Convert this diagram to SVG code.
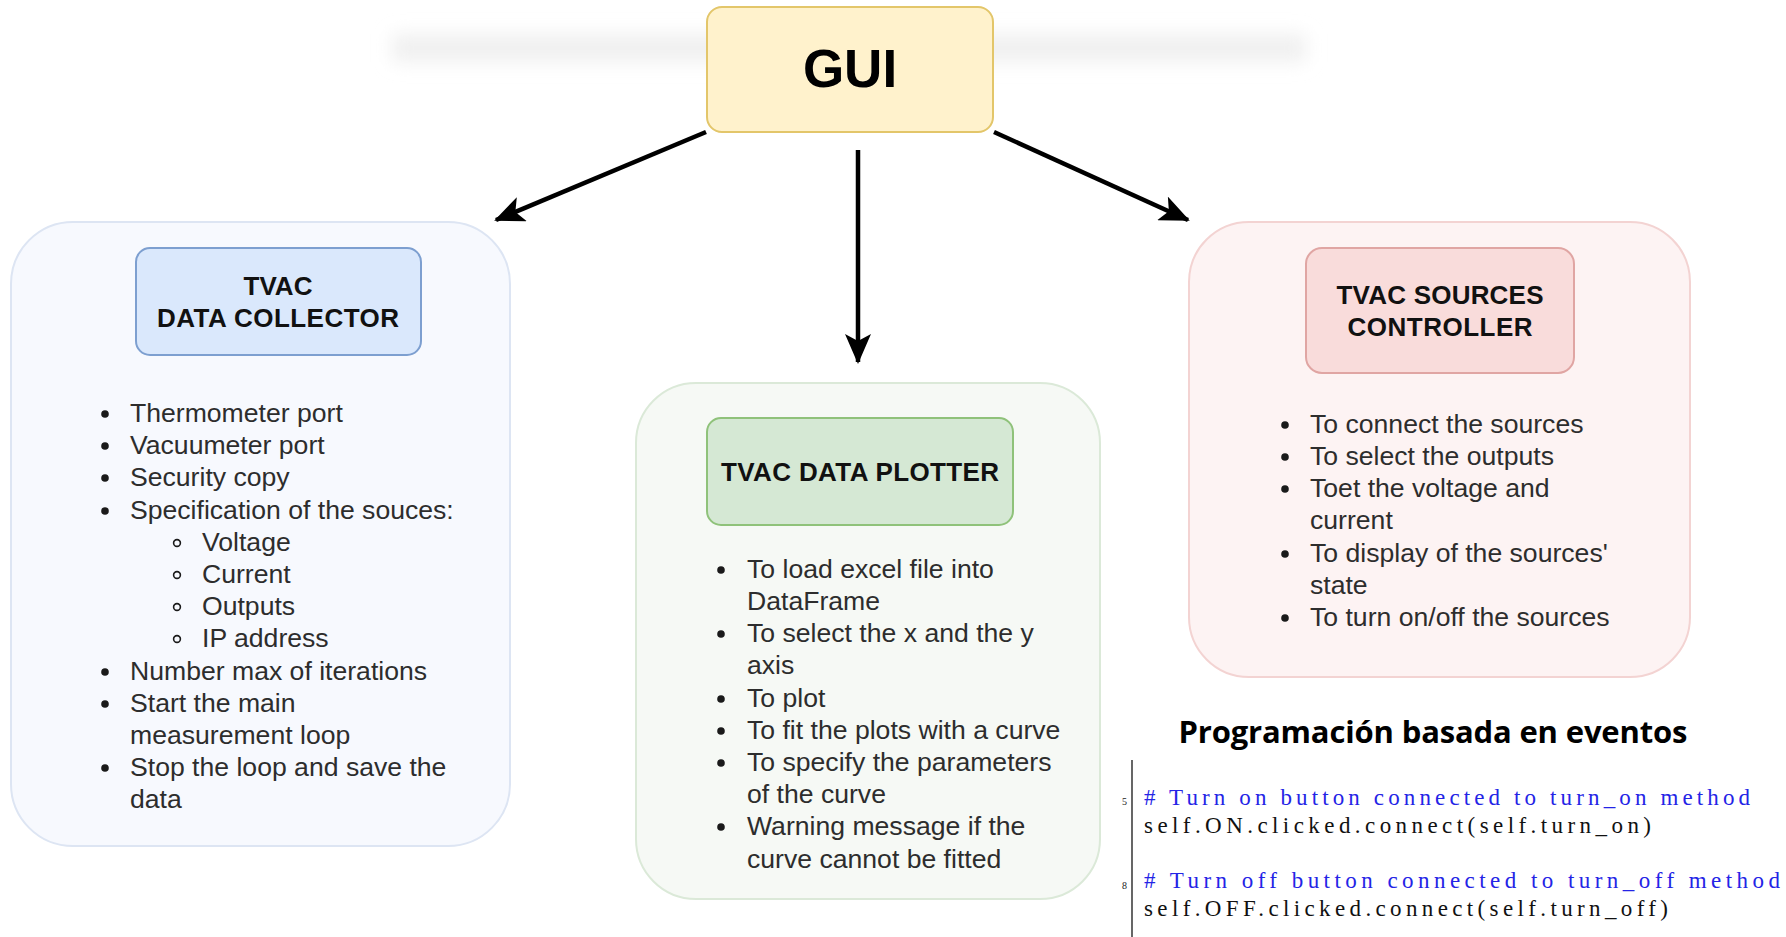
<svg xmlns="http://www.w3.org/2000/svg" width="1786" height="937" viewBox="0 0 1786 937">
<style>
.t{font-family:"Liberation Sans",Arial,sans-serif;font-size:26.6px;fill:#2d2d2d}
.h{font-family:"Liberation Sans",Arial,sans-serif;font-weight:bold;font-size:26px;fill:#111;text-anchor:middle}
.dot{fill:#1a1a1a}
.sub{fill:none;stroke:#1a1a1a;stroke-width:1.6}
.conn{stroke:#000;stroke-width:4.5;fill:none}
.code{font-family:"Liberation Serif","Times New Roman",serif;font-size:23px}
.ln{font-family:"Liberation Serif",serif;font-size:10px;fill:#222}
</style>
<defs>
<filter id="blur" x="-20%" y="-150%" width="140%" height="400%"><feGaussianBlur stdDeviation="9"/></filter>
<marker id="arr" markerUnits="userSpaceOnUse" markerWidth="30" markerHeight="26" viewBox="0 0 30 26" refX="28" refY="13" orient="auto">
<path d="M0,0 L30,13 L0,26 L7,13 Z" fill="#000"/>
</marker>
</defs>
<rect width="1786" height="937" fill="#fff"/>
<rect x="392" y="34" width="914" height="28" fill="#f0f0f0" filter="url(#blur)"/>

<g id="connectors">
<line class="conn" x1="706" y1="132" x2="496" y2="220" marker-end="url(#arr)"/>
<line class="conn" x1="858" y1="150" x2="858" y2="362" marker-end="url(#arr)"/>
<line class="conn" x1="994" y1="132" x2="1188" y2="220" marker-end="url(#arr)"/>
</g>

<g id="gui">
<rect x="707" y="7" width="286" height="125" rx="15" fill="#fff2cc" stroke="#e3c66a" stroke-width="2"/>
<text x="850" y="87" font-family="Liberation Sans,Arial,sans-serif" font-weight="bold" font-size="53" text-anchor="middle" fill="#000">GUI</text>
</g>

<g id="collector">
<rect x="11" y="222" width="499" height="624" rx="62" fill="#f7f9fe" stroke="#dde5f3" stroke-width="2"/>
<rect x="136" y="248" width="285" height="107" rx="14" fill="#dae8fc" stroke="#7d9fd0" stroke-width="2"/>
<text class="h" x="278" y="295">TVAC</text>
<text class="h" x="278" y="327" textLength="242">DATA COLLECTOR</text>
<circle class="dot" cx="105" cy="414" r="3.8"/>
<circle class="dot" cx="105" cy="446" r="3.8"/>
<circle class="dot" cx="105" cy="478" r="3.8"/>
<circle class="dot" cx="105" cy="511" r="3.8"/>
<circle class="sub" cx="177" cy="543" r="3.4"/>
<circle class="sub" cx="177" cy="575" r="3.4"/>
<circle class="sub" cx="177" cy="607" r="3.4"/>
<circle class="sub" cx="177" cy="639" r="3.4"/>
<circle class="dot" cx="105" cy="672" r="3.8"/>
<circle class="dot" cx="105" cy="704" r="3.8"/>
<circle class="dot" cx="105" cy="768" r="3.8"/>
<text class="t" x="130" y="422">Thermometer port</text>
<text class="t" x="130" y="454">Vacuumeter port</text>
<text class="t" x="130" y="486">Security copy</text>
<text class="t" x="130" y="519">Specification of the souces:</text>
<text class="t" x="202" y="551">Voltage</text>
<text class="t" x="202" y="583">Current</text>
<text class="t" x="202" y="615">Outputs</text>
<text class="t" x="202" y="647">IP address</text>
<text class="t" x="130" y="680">Number max of iterations</text>
<text class="t" x="130" y="712">Start the main</text>
<text class="t" x="130" y="744">measurement loop</text>
<text class="t" x="130" y="776">Stop the loop and save the</text>
<text class="t" x="130" y="808">data</text>
</g>

<g id="plotter">
<rect x="636" y="383" width="464" height="516" rx="60" fill="#f6f9f5" stroke="#dbe9d8" stroke-width="2"/>
<rect x="707" y="418" width="306" height="107" rx="14" fill="#d5e8d4" stroke="#8fc27a" stroke-width="2"/>
<text class="h" x="860" y="481" textLength="278">TVAC DATA PLOTTER</text>
<circle class="dot" cx="721" cy="570" r="3.8"/>
<circle class="dot" cx="721" cy="634" r="3.8"/>
<circle class="dot" cx="721" cy="699" r="3.8"/>
<circle class="dot" cx="721" cy="731" r="3.8"/>
<circle class="dot" cx="721" cy="763" r="3.8"/>
<circle class="dot" cx="721" cy="827" r="3.8"/>
<text class="t" x="747" y="578">To load excel file into</text>
<text class="t" x="747" y="610">DataFrame</text>
<text class="t" x="747" y="642">To select the x and the y</text>
<text class="t" x="747" y="674">axis</text>
<text class="t" x="747" y="707">To plot</text>
<text class="t" x="747" y="739">To fit the plots with a curve</text>
<text class="t" x="747" y="771">To specify the parameters</text>
<text class="t" x="747" y="803">of the curve</text>
<text class="t" x="747" y="835">Warning message if the</text>
<text class="t" x="747" y="868">curve cannot be fitted</text>
</g>

<g id="controller">
<rect x="1189" y="222" width="501" height="455" rx="60" fill="#fdf3f3" stroke="#f3d3d2" stroke-width="2"/>
<rect x="1306" y="248" width="268" height="125" rx="16" fill="#f9dcdb" stroke="#e0a5a3" stroke-width="2"/>
<text class="h" x="1440" y="304" textLength="207">TVAC SOURCES</text>
<text class="h" x="1440" y="336" textLength="185">CONTROLLER</text>
<circle class="dot" cx="1285" cy="425" r="3.8"/>
<circle class="dot" cx="1285" cy="457" r="3.8"/>
<circle class="dot" cx="1285" cy="489" r="3.8"/>
<circle class="dot" cx="1285" cy="554" r="3.8"/>
<circle class="dot" cx="1285" cy="618" r="3.8"/>
<text class="t" x="1310" y="433">To connect the sources</text>
<text class="t" x="1310" y="465">To select the outputs</text>
<text class="t" x="1310" y="497">Toet the voltage and</text>
<text class="t" x="1310" y="529">current</text>
<text class="t" x="1310" y="562">To display of the sources'</text>
<text class="t" x="1310" y="594">state</text>
<text class="t" x="1310" y="626">To turn on/off the sources</text>
</g>

<g id="code">
<text x="1433" y="743" font-family="Open Sans,Noto Sans,sans-serif" font-weight="bold" font-size="31" text-anchor="middle" fill="#000" textLength="509">Programación basada en eventos</text>
<line x1="1132" y1="760" x2="1132" y2="937" stroke="#000" stroke-width="1.2"/>
<text class="ln" x="1122" y="805">5</text>
<text class="ln" x="1122" y="889">8</text>
<text class="code" x="1144" y="805" fill="#2424e6" textLength="606">#  Turn  on  button  connected  to  turn_on  method</text>
<text class="code" x="1144" y="833" fill="#111" textLength="507">self.ON.clicked.connect(self.turn_on)</text>
<text class="code" x="1144" y="888" fill="#2424e6" textLength="636">#  Turn  off  button  connected  to  turn_off  method</text>
<text class="code" x="1144" y="916" fill="#111" textLength="524">self.OFF.clicked.connect(self.turn_off)</text>
</g>
</svg>
